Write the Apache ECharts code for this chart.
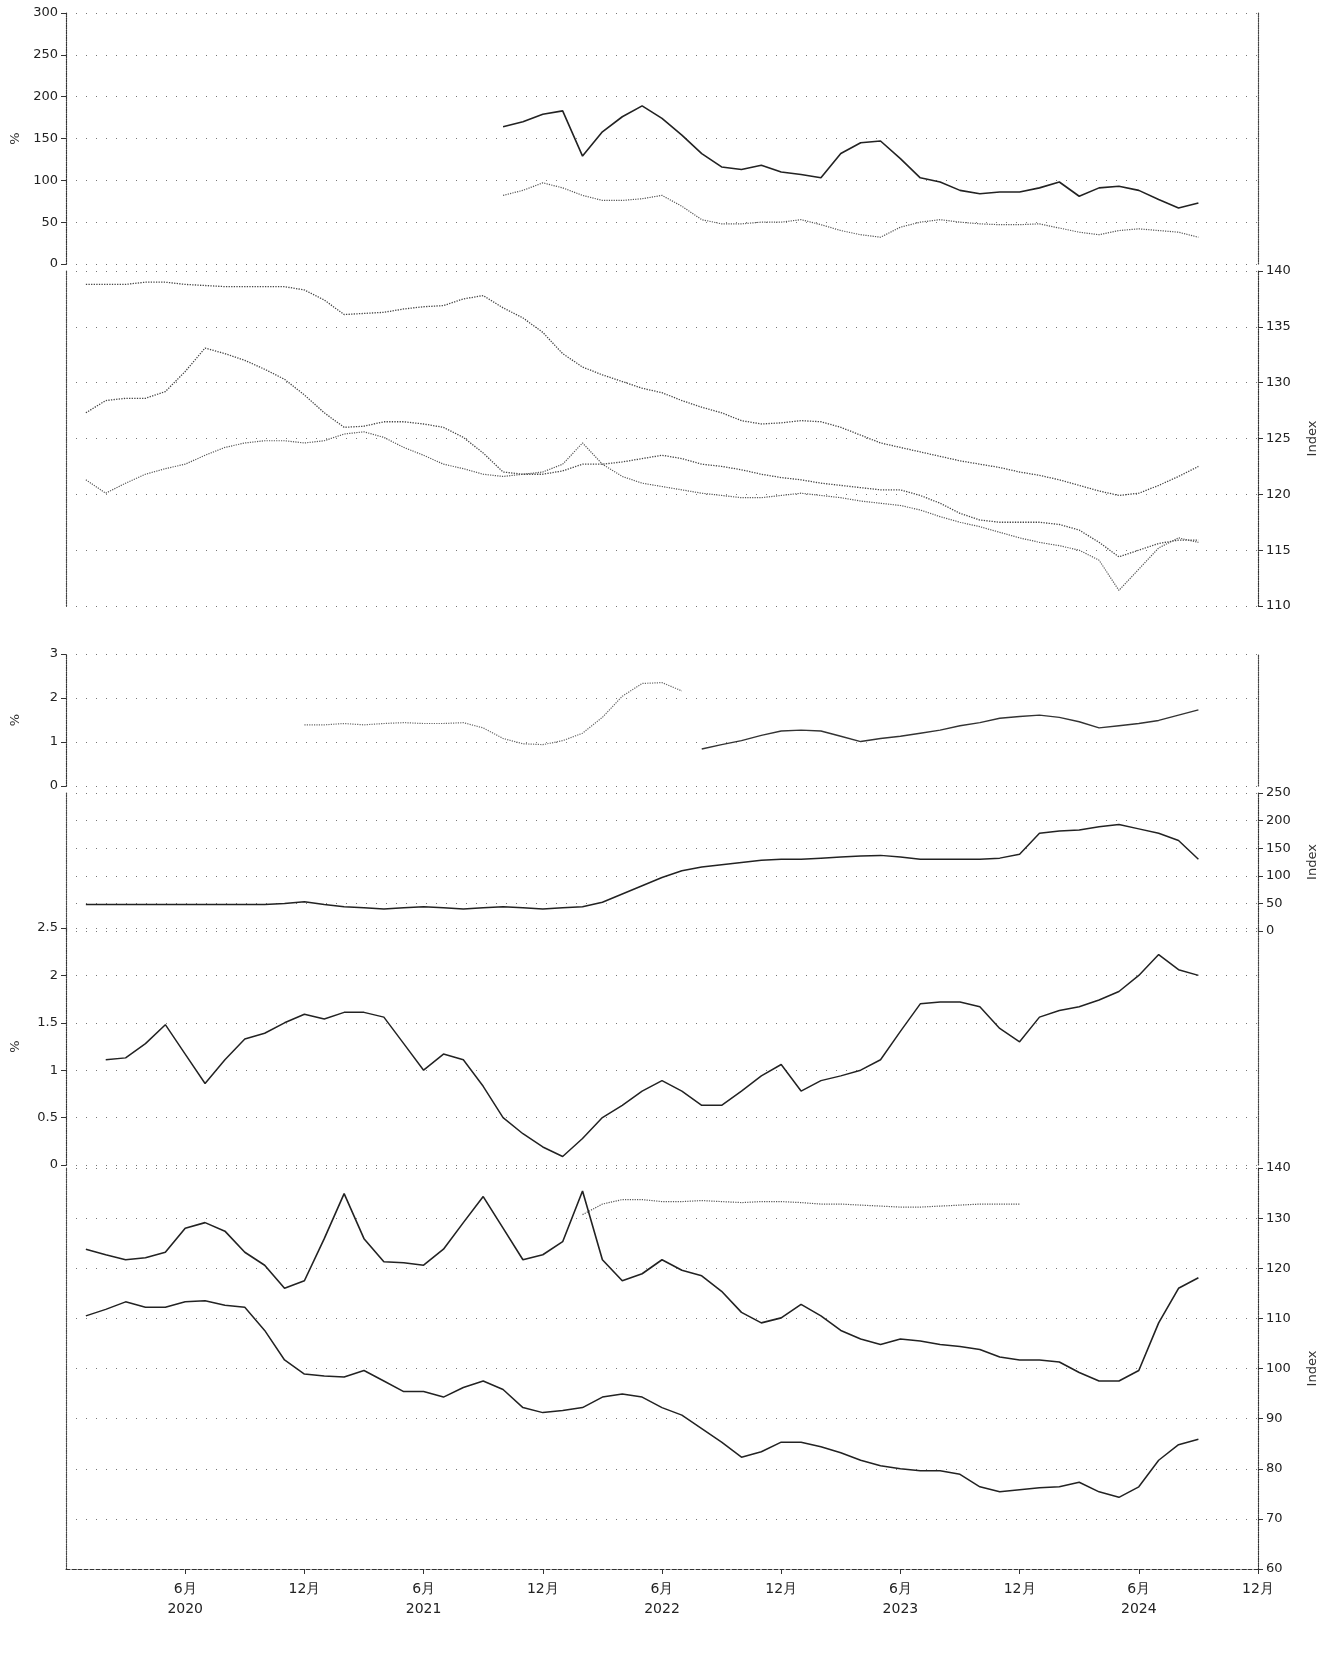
<!DOCTYPE html>
<html>
<head>
<meta charset="utf-8">
<script src="https://cdn.jsdelivr.net/npm/echarts@6/dist/echarts.min.js"></script>
<style>
html,body{margin:0;padding:0;background:#fff;}
#chart{width:1336px;height:1654px;}
</style>
</head>
<body>
<div id="chart"></div>
<script>
const months = ['2019-12',
 '2020-01','2020-02','2020-03','2020-04','2020-05','2020-06','2020-07','2020-08','2020-09','2020-10','2020-11','2020-12',
 '2021-01','2021-02','2021-03','2021-04','2021-05','2021-06','2021-07','2021-08','2021-09','2021-10','2021-11','2021-12',
 '2022-01','2022-02','2022-03','2022-04','2022-05','2022-06','2022-07','2022-08','2022-09','2022-10','2022-11','2022-12',
 '2023-01','2023-02','2023-03','2023-04','2023-05','2023-06','2023-07','2023-08','2023-09','2023-10','2023-11','2023-12',
 '2024-01','2024-02','2024-03','2024-04','2024-05','2024-06','2024-07','2024-08','2024-09','2024-10','2024-11','2024-12'];

// panel 1 (left axis 0-300), from 2021-10
const p1Start = 22;
const p1SeriesA = [164,170,179,183,129,158,176,189,174,154,132,116,113,118,110,107,103,132,145,147,126,103,98,88,84,86,86,91,98,81,91,93,88,77,67,73];
const p1SeriesB = [82,88,97,91,82,76,76,78,82,69,53,48,48,50,50,53,47,40,35,32,44,50,53,50,48,47,47,48,43,38,35,40,42,40,38,32];

// panel 2 (right axis 110-140), from 2020-01
const p2Start = 1;
const p2SeriesA = [138.8,138.8,138.8,139.0,139.0,138.8,138.7,138.6,138.6,138.6,138.6,138.3,137.4,136.1,136.2,136.3,136.6,136.8,136.9,137.5,137.8,136.7,135.8,134.5,132.6,131.4,130.7,130.1,129.5,129.1,128.4,127.8,127.3,126.6,126.3,126.4,126.6,126.5,126.0,125.3,124.6,124.2,123.8,123.4,123.0,122.7,122.4,122.0,121.7,121.3,120.8,120.3,119.9,120.1,120.8,121.6,122.5];
const p2SeriesB = [127.3,128.4,128.6,128.6,129.2,131.0,133.1,132.6,132.0,131.2,130.3,128.9,127.3,126.0,126.1,126.5,126.5,126.3,126.0,125.1,123.7,122.0,121.8,121.8,122.1,122.7,122.7,122.9,123.2,123.5,123.2,122.7,122.5,122.2,121.8,121.5,121.3,121.0,120.8,120.6,120.4,120.4,119.9,119.2,118.3,117.7,117.5,117.5,117.5,117.3,116.8,115.7,114.4,115.0,115.6,115.9,115.9];
const p2SeriesC = [121.3,120.1,121.0,121.8,122.3,122.7,123.5,124.2,124.6,124.8,124.8,124.6,124.8,125.4,125.6,125.1,124.2,123.5,122.7,122.3,121.8,121.6,121.8,122.0,122.7,124.6,122.7,121.6,121.0,120.7,120.4,120.1,119.9,119.7,119.7,119.9,120.1,119.9,119.7,119.4,119.2,119.0,118.6,118.0,117.5,117.1,116.6,116.1,115.7,115.4,115.0,114.1,111.4,113.3,115.2,116.1,115.7];

// panel 3 (left axis 0-3)
const p3StartA = 12;
const p3SeriesA = [1.39,1.39,1.42,1.39,1.42,1.44,1.42,1.42,1.44,1.32,1.08,0.96,0.94,1.03,1.20,1.56,2.04,2.33,2.35,2.16];
const p3StartB = 32;
const p3SeriesB = [0.84,0.94,1.03,1.15,1.25,1.27,1.25,1.13,1.01,1.08,1.13,1.20,1.27,1.37,1.44,1.54,1.58,1.61,1.56,1.46,1.32,1.37,1.42,1.49,1.61,1.73];

// panel 4 (right axis 0-250)
const p4Start = 1;
const p4Series = [48,48,48,48,48,48,48,48,48,48,50,53,48,44,42,40,42,44,42,40,42,44,42,40,42,44,52,67,82,97,109,116,120,124,128,130,130,132,134,136,137,134,130,130,130,130,132,139,177,181,183,189,193,185,177,164,130];

// panel 5 (left axis 0-2.5)
const p5Start = 2;
const p5Series = [1.11,1.13,1.28,1.48,1.17,0.86,1.11,1.33,1.39,1.50,1.59,1.54,1.61,1.61,1.56,1.28,1.00,1.17,1.11,0.83,0.50,0.33,0.19,0.09,0.28,0.50,0.63,0.78,0.89,0.78,0.63,0.63,0.78,0.94,1.06,0.78,0.89,0.94,1.00,1.11,1.41,1.70,1.72,1.72,1.67,1.44,1.30,1.56,1.63,1.67,1.74,1.83,2.00,2.22,2.06,2.00];

// panel 6 (right axis 60-140)
const p6Start = 1;
const p6SeriesA = [123.8,122.7,121.7,122.1,123.2,128.0,129.1,127.4,123.2,120.6,116.0,117.5,125.9,134.9,125.9,121.3,121.1,120.6,123.8,129.1,134.3,128.0,121.7,122.7,125.3,135.4,121.7,117.5,118.9,121.7,119.6,118.5,115.4,111.2,109.1,110.1,112.8,110.5,107.6,105.9,104.8,105.9,105.5,104.8,104.4,103.8,102.3,101.7,101.7,101.3,99.2,97.5,97.5,99.6,109.1,116.0,118.1];
const p6SeriesB = [110.5,111.8,113.3,112.2,112.2,113.3,113.5,112.6,112.2,107.6,101.7,98.9,98.5,98.3,99.6,97.5,95.4,95.4,94.3,96.2,97.5,95.8,92.2,91.2,91.6,92.2,94.3,94.9,94.3,92.2,90.7,88.0,85.3,82.3,83.4,85.3,85.3,84.4,83.2,81.7,80.6,80.0,79.6,79.6,78.9,76.4,75.4,75.8,76.2,76.4,77.3,75.4,74.3,76.4,81.7,84.8,85.9];
const p6StartC = 26;
const p6SeriesC = [130.7,132.8,133.7,133.7,133.3,133.3,133.5,133.3,133.1,133.3,133.3,133.1,132.8,132.8,132.6,132.4,132.2,132.2,132.4,132.6,132.8,132.8,132.8];

function pairs(start, vals){ return vals.map((v,k)=>[months[start+k], v]); }

const panels = [
  {top:13,  h:251, side:'left',  min:0,   max:300, interval:50,  name:'%'},
  {top:271, h:335, side:'right', min:110, max:140, interval:5,   name:'Index'},
  {top:654, h:132, side:'left',  min:0,   max:3,   interval:1,   name:'%'},
  {top:793, h:138, side:'right', min:0,   max:250, interval:50,  name:'Index'},
  {top:928, h:237, side:'left',  min:0,   max:2.5, interval:0.5, name:'%'},
  {top:1168,h:401, side:'right', min:60,  max:140, interval:10,  name:'Index'}
];

const grids = panels.map(p=>({left:66, right:78, top:p.top, height:p.h}));

const isLabelMonth = (idx, val) => idx > 0 && (val.slice(5) === '06' || val.slice(5) === '12');

const xAxes = panels.map((p,k)=>({
  type:'category', gridIndex:k, data:months, boundaryGap:false,
  axisLine:{show:k===5, lineStyle:{color:'#333', type:'dashed', width:1}},
  axisTick:{show:k===5, interval:isLabelMonth, lineStyle:{color:'#333'}},
  axisLabel:{show:k===5, interval:isLabelMonth, color:'#222', fontSize:14, lineHeight:20, margin:10,
    fontFamily:'DejaVu Sans',
    formatter:(v)=> v.slice(5)==='06' ? '6月\n' + v.slice(0,4) : '12月'},
  splitLine:{show:false}
}));

const yAxes = [];
panels.forEach((p,k)=>{
  yAxes.push({
    type:'value', gridIndex:k, position:p.side, min:p.min, max:p.max, interval:p.interval,
    name:p.name, nameLocation:'middle', nameGap: p.side==='left'?44:48, nameRotate:90,
    nameTextStyle:{color:'#333', fontSize:13, fontFamily:'DejaVu Sans'},
    axisLine:{show:true, lineStyle:{color:'#333', type:'dotted', width:1.2}},
    axisTick:{show:true, lineStyle:{color:'#333'}},
    axisLabel:{color:'#222', fontSize:13, fontFamily:'DejaVu Sans', margin:8},
    splitLine:{show:true, lineStyle:{color:'#777', type:[1,9], width:1}}
  });
  yAxes.push({
    type:'value', gridIndex:k, position:p.side==='left'?'right':'left', min:p.min, max:p.max, interval:p.interval,
    axisLine:{show:true, lineStyle:{color:'#444', type:'dotted', width:1.2}},
    axisTick:{show:false}, axisLabel:{show:false}, splitLine:{show:false}
  });
});

function line(k, data, color, width, type){
  return {type:'line', xAxisIndex:k, yAxisIndex:2*k, data:data, showSymbol:false, symbol:'none',
    connectNulls:false, lineStyle:{color:color, width:width, type:type||'solid'}, z:3, animation:false};
}

const series = [
  line(0, pairs(p1Start, p1SeriesA), '#222', 1.6),
  line(0, pairs(p1Start, p1SeriesB), '#555', 1.2, 'dotted'),
  line(1, pairs(p2Start, p2SeriesA), '#444', 1.3, 'dotted'),
  line(1, pairs(p2Start, p2SeriesB), '#444', 1.3, 'dotted'),
  line(1, pairs(p2Start, p2SeriesC), '#555', 1.2, 'dotted'),
  line(2, pairs(p3StartA, p3SeriesA), '#666', 1.2, 'dotted'),
  line(2, pairs(p3StartB, p3SeriesB), '#333', 1.4),
  line(3, pairs(p4Start, p4Series), '#222', 1.5),
  line(4, pairs(p5Start, p5Series), '#222', 1.5),
  line(5, pairs(p6Start, p6SeriesA), '#222', 1.6),
  line(5, pairs(p6Start, p6SeriesB), '#222', 1.5),
  line(5, pairs(p6StartC, p6SeriesC), '#555', 1.2, 'dotted')
];

const chart = echarts.init(document.getElementById('chart'), null, {renderer:'canvas'});
chart.setOption({
  backgroundColor:'#ffffff',
  animation:false,
  grid:grids,
  xAxis:xAxes,
  yAxis:yAxes,
  series:series
});
</script>
</body>
</html>
